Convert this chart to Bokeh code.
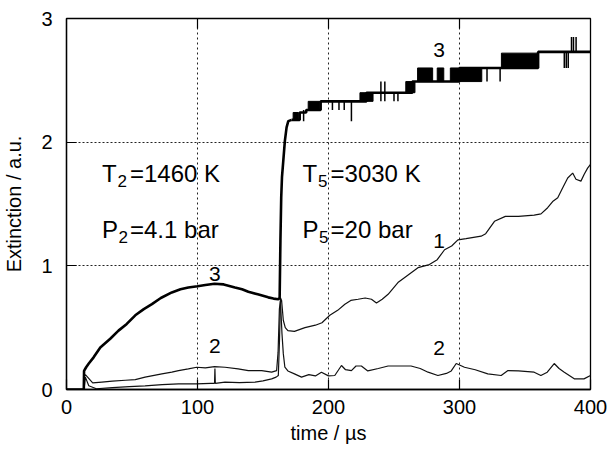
import math
from bokeh.plotting import figure
from bokeh.models import FixedTicker, Range1d, ColumnDataSource
from bokeh.core.properties import value
from bokeh.embed import file_html
from bokeh.resources import INLINE

FONT = "Liberation Sans"

# ---------------- data ----------------
x_ticks = [0, 100, 200, 300, 400]
y_ticks = [0, 1, 2, 3]
x_grid = [100, 200, 300]
y_grid = [1, 2]

# curve 3 (thick), smooth part up to the end of the steep rise
t3 = [0, 13.2, 13.4, 15, 17, 20.7, 25.8, 33.4, 39.7, 46, 52.5, 59, 65.2, 72, 80.4, 87, 93, 100,
      106, 113, 120, 128.6, 134, 138.8, 146, 154, 158, 161.7, 162.7, 163.3, 163.9, 164.5, 165.5,
      166.7, 168, 169.3, 171.8]
v3 = [0, 0, 0.15, 0.18, 0.21, 0.26, 0.34, 0.41, 0.476, 0.53, 0.60, 0.65, 0.69, 0.74, 0.785, 0.81,
      0.825, 0.835, 0.845, 0.855, 0.85, 0.825, 0.81, 0.79, 0.77, 0.745, 0.735, 0.73, 0.74, 1.2,
      1.55, 1.72, 1.85, 2.01, 2.12, 2.17, 2.18]

# curve 3, quantised plateau part (step levels)
step_t = [171.8, 178, 183, 194, 229, 264, 300, 360, 400]
step_v = [2.18, 2.24, 2.26, 2.33, 2.40, 2.49, 2.60, 2.73, 2.73]

# curve 3, flicker blocks between two quantisation levels
band_t0 = [173, 184.5, 224, 259, 268, 283, 293, 332]
band_t1 = [177, 193.4, 234, 266, 279.5, 288, 317, 360]
band_lo = [2.18, 2.26, 2.33, 2.40, 2.49, 2.49, 2.49, 2.60]
band_hi = [2.24, 2.33, 2.40, 2.49, 2.60, 2.60, 2.60, 2.72]

# curve 3, single flicker spikes
spike_t = [181, 203, 208, 212, 217.5, 240, 243, 250, 253, 321, 331, 380, 381.5, 383, 385.5, 387, 389]
spike_lo = [2.17, 2.26, 2.26, 2.26, 2.17, 2.33, 2.33, 2.33, 2.33, 2.49, 2.49, 2.60, 2.60, 2.60, 2.73, 2.73, 2.73]
spike_hi = [2.26, 2.33, 2.33, 2.33, 2.33, 2.49, 2.49, 2.40, 2.40, 2.60, 2.60, 2.73, 2.73, 2.73, 2.85, 2.85, 2.85]

# curve 1 (thin)
t1 = [0, 13.4, 14.4, 17, 22.8, 35, 48, 60, 73, 85.5, 99, 110, 113, 113.3, 113.6, 121, 132, 143.9,
      150, 156.6, 160, 161.7, 162.6, 163.4, 164.2, 165.5, 167, 169, 174, 182, 190, 195, 201, 207,
      212.5, 217, 222.6, 228, 232.8, 236.6, 241, 245.5, 253, 260, 268.3, 277, 283, 288.6, 294,
      298.8, 305, 316.5, 320, 326.7, 335, 345, 357, 362.2, 367.3, 371.1, 375, 378.7, 382.6,
      386.4, 388.9, 392.7, 395.2, 397.8, 400]
v1 = [0, 0, 0.10, 0.03, 0.006, 0.015, 0.024, 0.03, 0.04, 0.045, 0.045, 0.05, 0.05, 0.17, 0.05,
      0.06, 0.055, 0.06, 0.07, 0.086, 0.10, 0.113, 0.40, 0.74, 0.72, 0.56, 0.50, 0.476, 0.47,
      0.50, 0.52, 0.54, 0.60, 0.64, 0.69, 0.72, 0.73, 0.74, 0.73, 0.70, 0.73, 0.77, 0.865, 0.92,
      0.985, 1.01, 1.05, 1.13, 1.16, 1.21, 1.22, 1.24, 1.26, 1.36, 1.40, 1.40, 1.41, 1.42, 1.47,
      1.52, 1.55, 1.63, 1.71, 1.75, 1.70, 1.685, 1.74, 1.79, 1.82]

# curve 2 (thin)
t2 = [13.4, 14.4, 20, 27, 35, 45, 52.5, 60, 72.8, 80.4, 85.5, 93, 99.4, 106, 113, 121, 131, 138.8,
      149, 156.6, 160.4, 161.5, 162.5, 163.3, 164.5, 165.5, 166.7, 169, 174, 179.4, 185, 190,
      194.6, 200, 204.8, 209.9, 213, 217.5, 221, 225.1, 230, 238, 245.5, 255, 263, 270, 276,
      283.5, 290, 293.7, 297.5, 303.8, 312, 321.6, 331.8, 337, 345, 357, 362.1, 367, 372.3, 376,
      380, 387.6, 395, 400]
v2 = [0.10, 0.12, 0.054, 0.06, 0.067, 0.075, 0.08, 0.10, 0.126, 0.14, 0.153, 0.167, 0.18, 0.175,
      0.185, 0.18, 0.167, 0.153, 0.153, 0.14, 0.153, 0.30, 0.65, 0.72, 0.45, 0.29, 0.18, 0.15,
      0.126, 0.10, 0.12, 0.11, 0.14, 0.11, 0.113, 0.194, 0.16, 0.153, 0.19, 0.19, 0.15, 0.17,
      0.19, 0.19, 0.19, 0.17, 0.14, 0.113, 0.13, 0.15, 0.21, 0.18, 0.16, 0.126, 0.113, 0.153,
      0.15, 0.14, 0.113, 0.14, 0.21, 0.17, 0.14, 0.086, 0.086, 0.113]

# curve labels
lab_txt = ["3", "2", "3", "1", "2"]
lab_t = [113.2, 113.2, 284.5, 284.5, 284.5]
lab_v = [0.93, 0.35, 2.746, 1.20, 0.335]

# condition annotations (main letter, subscript, rest)
ann_main = ["T", "P", "T", "P"]
ann_sub = ["2", "2", "5", "5"]
ann_rest = ["=1460 K", "=4.1 bar", "=3030 K", "=20 bar"]
ann_t = [27.1, 27.1, 180.2, 180.2]
ann_v = [1.75, 1.296, 1.75, 1.296]

# ---------------- figure ----------------
p = figure(width=611, height=451, x_range=Range1d(0, 400), y_range=Range1d(0, 3),
           output_backend="svg", toolbar_location=None,
           min_border_left=64, min_border_right=21, min_border_top=18, min_border_bottom=62)

p.background_fill_color = "white"
p.border_fill_color = "white"
p.outline_line_color = "black"
p.outline_line_width = 1.3
p.outline_line_alpha = 1.0

for ax in (p.xaxis[0], p.yaxis[0]):
    ax.axis_line_color = "black"
    ax.axis_line_width = 1.3
    ax.major_tick_in = 10
    ax.major_tick_out = 0
    ax.major_tick_line_color = "black"
    ax.major_tick_line_width = 1.2
    ax.minor_tick_line_color = None
    ax.major_label_text_font = FONT
    ax.major_label_text_font_size = "20px"
    ax.major_label_text_color = "black"
    ax.axis_label_text_font = FONT
    ax.axis_label_text_font_size = "20px"
    ax.axis_label_text_font_style = "normal"
    ax.axis_label_text_color = "black"

p.xaxis.ticker = FixedTicker(ticks=x_ticks)
p.yaxis.ticker = FixedTicker(ticks=y_ticks)
p.xaxis.axis_label = "time / \u00b5s"
p.yaxis.axis_label = "Extinction / a.u."
p.xaxis.major_label_standoff = 10
p.xaxis.axis_label_standoff = 5
p.yaxis.major_label_standoff = 14
p.yaxis.axis_label_standoff = 13

p.xgrid.ticker = FixedTicker(ticks=x_grid)
p.ygrid.ticker = FixedTicker(ticks=y_grid)
p.xgrid.grid_line_color = "#222222"
p.xgrid.grid_line_width = 1
p.xgrid.grid_line_dash = "2 3"
p.ygrid.grid_line_color = "#222222"
p.ygrid.grid_line_width = 1
p.ygrid.grid_line_dash = "2 2"

# mirrored inward ticks on the top edge
p.scatter(x=x_grid, y=[y_ticks[-1]] * len(x_grid), marker="dash", angle=math.pi / 2,
          size=20, line_color="black", line_width=1.2)

# thin curves
p.line(t2, v2, line_color="#111111", line_width=1.2)
p.line(t1, v1, line_color="#111111", line_width=1.2)

# thick curve 3
p.line(t3, v3, line_color="black", line_width=2.6)
p.step(step_t, step_v, mode="after", line_color="black", line_width=2.6)
p.quad(left=band_t0, right=band_t1, bottom=band_lo, top=band_hi,
       fill_color="black", line_color="black", line_width=1)
p.segment(x0=spike_t, x1=spike_t, y0=spike_lo, y1=spike_hi, line_color="black", line_width=1.5)

# curve labels
p.text(x=lab_t, y=lab_v, text=lab_txt, text_font=value(FONT), text_font_size="21px",
       text_align="center", text_baseline="middle", text_color="black")

# annotations with subscripts
src = ColumnDataSource(dict(x=ann_t, y=ann_v, main=ann_main, sub=ann_sub, rest=ann_rest,
                            sub_off=[15.5 if m == "T" else 16.5 for m in ann_main],
                            rest_off=[28 if m == "T" else 28 for m in ann_main]))
p.text(x="x", y="y", text="main", source=src, text_font=value(FONT), text_font_size="24px",
       text_align="left", text_baseline="alphabetic", text_color="black")
p.text(x="x", y="y", text="sub", source=src, text_font=value(FONT), text_font_size="17px",
       text_align="left", text_baseline="alphabetic", text_color="black",
       x_offset="sub_off", y_offset=8)
p.text(x="x", y="y", text="rest", source=src, text_font=value(FONT), text_font_size="24px",
       text_align="left", text_baseline="alphabetic", text_color="black",
       x_offset="rest_off")

open("out.html", "w").write(file_html(p, INLINE))
